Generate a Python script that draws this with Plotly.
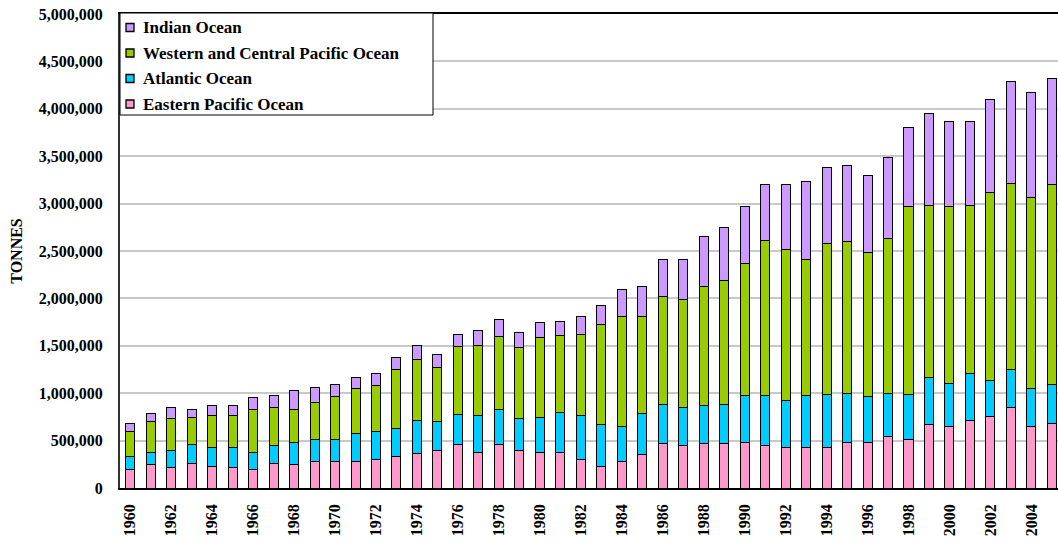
import plotly.graph_objects as go

years = list(range(1960, 2006))

eastern_pacific = [
    192000, 248000, 213000, 262000, 231000, 213000, 192000, 262000, 248000, 280000,
    280000, 280000, 298000, 333000, 361000, 396000, 460000, 379000, 460000, 396000,
    379000, 379000, 298000, 231000, 284000, 351000, 467000, 449000, 467000, 467000,
    484000, 449000, 432000, 432000, 432000, 481000, 481000, 548000, 516000, 668000,
    650000, 717000, 749000, 851000, 650000, 682000,
]
atlantic = [
    141000, 131000, 183000, 201000, 201000, 219000, 187000, 184000, 233000, 236000,
    236000, 300000, 299000, 299000, 356000, 303000, 320000, 387000, 370000, 335000,
    366000, 416000, 468000, 437000, 366000, 433000, 416000, 402000, 402000, 416000,
    487000, 522000, 486000, 539000, 553000, 521000, 486000, 454000, 469000, 500000,
    451000, 486000, 387000, 402000, 402000, 405000,
]
western_central_pacific = [
    264000, 320000, 335000, 282000, 331000, 331000, 451000, 401000, 352000, 384000,
    451000, 468000, 487000, 621000, 634000, 571000, 709000, 737000, 771000, 754000,
    842000, 810000, 855000, 1053000, 1156000, 1022000, 1138000, 1138000, 1254000, 1307000,
    1402000, 1638000, 1593000, 1437000, 1594000, 1593000, 1512000, 1628000, 1980000, 1815000,
    1864000, 1780000, 1981000, 1962000, 2015000, 2111000,
]
indian = [
    88000, 85000, 120000, 88000, 106000, 106000, 123000, 124000, 191000, 155000,
    120000, 122000, 119000, 119000, 155000, 134000, 134000, 155000, 173000, 155000,
    155000, 155000, 187000, 201000, 285000, 321000, 387000, 419000, 528000, 557000,
    592000, 589000, 687000, 825000, 805000, 807000, 821000, 853000, 842000, 972000,
    902000, 884000, 986000, 1071000, 1103000, 1124000,
]

series_names = ["Eastern Pacific Ocean", "Atlantic Ocean",
                "Western and Central Pacific Ocean", "Indian Ocean"]
series_values = [eastern_pacific, atlantic, western_central_pacific, indian]
series_colors = ["#FF99CC", "#00CCFF", "#99CC00", "#CC99FF"]

x_tick_years = list(range(1960, 2005, 2))
y_ticks = list(range(0, 5000001, 500000))

FONT = "Liberation Serif"

fig = go.Figure()
for name, vals, col in zip(series_names, series_values, series_colors):
    fig.add_trace(go.Bar(
        x=years, y=vals, name=name,
        marker=dict(color=col, line=dict(color="#000000", width=1)),
        showlegend=False,
    ))

# Legend drawn as box + swatches + text (top-left, inside plot)
W, H = 1058, 545
ml, mr, mt, mb = 120, 0, 14, 57
pw, ph = W - ml - mr, H - mt - mb

def px_x(x):
    return (x - ml) / pw

def px_y(y):
    return (H - mb - y) / ph

shapes = [dict(type="rect", xref="paper", yref="paper",
               x0=px_x(120), x1=px_x(433), y0=px_y(115), y1=px_y(13),
               fillcolor="white", line=dict(color="black", width=1), layer="above")]
annotations = []
legend_rows = [27.5, 53, 78.5, 104]
for row_y, idx in zip(legend_rows, [3, 2, 1, 0]):
    shapes.append(dict(type="rect", xref="paper", yref="paper",
                       x0=px_x(126), x1=px_x(134), y0=px_y(row_y + 4), y1=px_y(row_y - 4),
                       fillcolor=series_colors[idx], line=dict(color="black", width=1.3),
                       layer="above"))
    annotations.append(dict(xref="paper", yref="paper", x=px_x(141), y=px_y(row_y),
                            xanchor="left", yanchor="middle", showarrow=False,
                            text=series_names[idx],
                            font=dict(family=FONT, size=17, color="black", weight="bold")))

fig.update_layout(
    width=W, height=H,
    margin=dict(l=ml, r=mr, t=mt, b=mb),
    barmode="stack", bargap=0.56,
    plot_bgcolor="white", paper_bgcolor="white",
    font=dict(family=FONT, size=16, color="black", weight="bold"),
    shapes=shapes, annotations=annotations,
    xaxis=dict(
        range=[1959.5, 2005.3], tickmode="array", tickvals=x_tick_years,
        ticktext=[str(y) for y in x_tick_years], tickangle=-90,
        showgrid=False, showline=True, linecolor="#000000", linewidth=1.5,
        mirror=True, ticks="", zeroline=False, ticklabelstandoff=8,
        tickfont=dict(family=FONT, size=16, color="black", weight="bold"),
    ),
    yaxis=dict(
        range=[0, 5000000], tickmode="array", tickvals=y_ticks, tickformat=",d",
        showgrid=True, gridcolor="#C8C8C8", gridwidth=1.5,
        showline=True, linecolor="#333333", linewidth=2, ticks="",
        zeroline=False, ticklabelstandoff=12,
        tickfont=dict(family=FONT, size=16, color="black", weight="bold"),
        title=dict(text="TONNES", standoff=12,
                   font=dict(family=FONT, size=16, color="black", weight="bold")),
    ),
)

fig.write_html("out.html",
               config={"displayModeBar": False},
               post_script="document.body.style.margin='0';document.body.style.overflow='hidden';")
